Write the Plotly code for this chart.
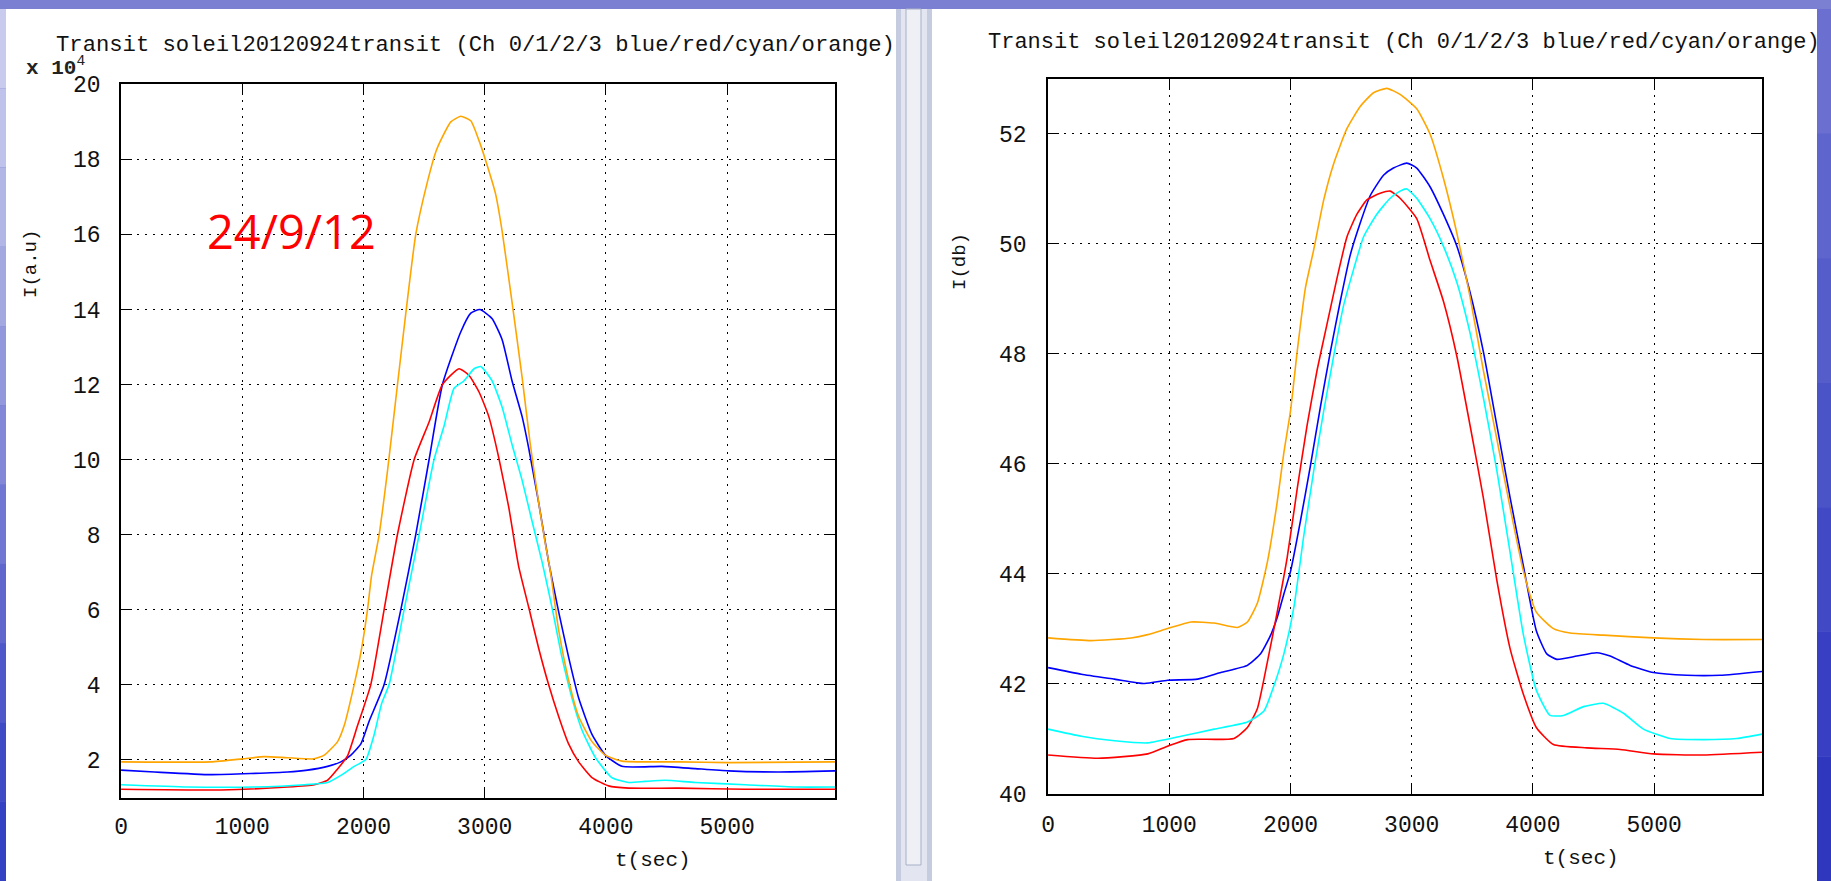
import plotly.graph_objects as go

W, H = 1831, 881

# ---------------- data: left panel, I (a.u., x10^4) ----------------
tL_orange = [0, 740, 1000, 1180, 1370, 1590, 1676, 1786, 1840, 1923, 1978, 2033, 2066, 2129, 2198, 2266, 2349, 2431, 2527,
             2596, 2651, 2720, 2802, 2885, 2953, 3005, 3088, 3143, 3225, 3308, 3376, 3445, 3500, 3541, 3610, 3692,
             3775, 3885, 3995, 4132, 4599, 5011, 5890]
vL_orange = [1.94, 1.94, 2.02, 2.08, 2.05, 2.02, 2.12, 2.48, 2.9, 4.0, 4.85, 6.0, 6.9, 8.0, 9.7, 11.6, 13.9, 16.0, 17.4,
             18.2, 18.6, 19.0, 19.15, 19.03, 18.5, 18.0, 17.1, 16.1, 14.2, 12.2, 10.4, 8.85, 7.76, 7.03, 5.45, 4.12,
             3.15, 2.48, 2.12, 1.96, 1.94, 1.92, 1.94]

tL_blue = [0, 275, 742, 1374, 1538, 1703, 1813, 1896, 1978, 2047, 2170, 2308, 2431, 2541, 2651, 2802, 2885, 2960,
           3060, 3143, 3225, 3308, 3363, 3445, 3527, 3610, 3692, 3775, 3885, 3995, 4132, 4462, 4736, 5011, 5423, 5890]
vL_blue = [1.72, 1.67, 1.6, 1.67, 1.72, 1.82, 1.94, 2.12, 2.42, 3.03, 4.0, 6.0, 8.0, 10.0, 12.0, 13.4, 13.9, 14.0,
           13.76, 13.2, 12.1, 11.15, 10.3, 8.85, 7.27, 5.94, 4.73, 3.64, 2.67, 2.12, 1.82, 1.82, 1.76, 1.7, 1.67, 1.7]

tL_red = [0, 824, 1374, 1593, 1703, 1786, 1868, 1950, 2060, 2170, 2280, 2418, 2541, 2651, 2788, 2871, 2953, 3033,
          3115, 3198, 3280, 3363, 3445, 3527, 3610, 3692, 3775, 3885, 4022, 4187, 4599, 5148, 5890]
vL_red = [1.21, 1.19, 1.27, 1.33, 1.45, 1.75, 2.1, 2.9, 4.0, 6.0, 8.0, 10.0, 11.0, 12.0, 12.42, 12.24, 11.8, 11.15,
          10.06, 8.73, 7.15, 6.06, 4.97, 4.0, 3.15, 2.42, 1.94, 1.52, 1.3, 1.24, 1.24, 1.21, 1.21]

tL_cyan = [0, 549, 1099, 1511, 1703, 1813, 1923, 2019, 2088, 2150, 2211, 2335, 2459, 2582, 2665, 2747, 2830, 2912,
           2967, 3060, 3143, 3225, 3308, 3390, 3473, 3555, 3637, 3720, 3802, 3912, 4049, 4187, 4324, 4489, 4736,
           5148, 5560, 5890]
vL_cyan = [1.33, 1.27, 1.27, 1.33, 1.39, 1.58, 1.82, 2.0, 2.67, 3.5, 4.0, 6.0, 8.0, 10.0, 10.9, 11.9, 12.1, 12.42,
           12.48, 12.1, 11.4, 10.4, 9.45, 8.36, 7.27, 6.06, 4.73, 3.64, 2.79, 2.06, 1.52, 1.39, 1.42, 1.45, 1.39,
           1.33, 1.27, 1.27]

# ---------------- data: right panel, I (dB) ----------------
tR_orange = [0, 356, 685, 822, 986, 1178, 1370, 1562, 1644, 1726, 1808, 1890, 1945, 2000, 2055, 2123, 2192, 2274,
             2356, 2466, 2575, 2685, 2795, 2904, 3041, 3151, 3261, 3372, 3481, 3591, 3702, 3812, 3922, 4028, 4169,
             4307, 4582, 4994, 5407, 5890]
vR_orange = [42.83, 42.78, 42.83, 42.89, 43.0, 43.12, 43.1, 43.02, 43.12, 43.46, 44.2, 45.3, 46.2, 46.96, 48.04,
             49.2, 49.9, 50.8, 51.46, 52.1, 52.5, 52.75, 52.83, 52.72, 52.46, 52.0, 51.2, 50.2, 49.04, 47.7, 46.45,
             45.2, 44.04, 43.3, 43.0, 42.92, 42.88, 42.83, 42.8, 42.8]

tR_blue = [0, 274, 548, 795, 986, 1233, 1425, 1644, 1753, 1836, 1890, 1945, 2000, 2082, 2164, 2247, 2329, 2411,
           2493, 2575, 2658, 2767, 2849, 2959, 3041, 3151, 3261, 3372, 3481, 3591, 3702, 3812, 3922, 4028, 4114,
           4197, 4362, 4527, 4637, 4802, 4994, 5269, 5545, 5890]
vR_blue = [42.29, 42.17, 42.08, 42.0, 42.06, 42.08, 42.2, 42.33, 42.54, 42.88, 43.2, 43.63, 44.04, 44.96, 45.96,
           47.04, 48.04, 48.96, 49.8, 50.38, 50.88, 51.25, 51.38, 51.47, 51.38, 51.04, 50.54, 49.96, 49.12, 48.04,
           46.7, 45.38, 44.13, 42.96, 42.54, 42.44, 42.5, 42.56, 42.5, 42.33, 42.2, 42.15, 42.15, 42.22]

tR_red = [0, 411, 822, 986, 1151, 1534, 1644, 1726, 1808, 1890, 1973, 2055, 2137, 2219, 2301, 2384, 2466, 2548,
          2630, 2740, 2822, 2904, 3041, 3151, 3261, 3372, 3481, 3591, 3702, 3812, 3922, 4028, 4169, 4444, 4719,
          4994, 5407, 5890]
vR_red = [40.7, 40.64, 40.72, 40.86, 40.98, 41.0, 41.2, 41.54, 42.38, 43.3, 44.3, 45.54, 46.7, 47.7, 48.54, 49.38,
          50.13, 50.54, 50.8, 50.92, 50.96, 50.83, 50.46, 49.7, 48.96, 47.96, 46.7, 45.38, 43.88, 42.63, 41.8, 41.2,
          40.89, 40.83, 40.8, 40.72, 40.7, 40.75]

tR_cyan = [0, 274, 548, 822, 1096, 1370, 1644, 1781, 1863, 1945, 2027, 2110, 2192, 2274, 2356, 2438, 2521, 2603,
           2712, 2822, 2904, 2959, 3041, 3151, 3261, 3372, 3481, 3591, 3702, 3812, 3922, 4028, 4141, 4252, 4417,
           4582, 4747, 4912, 5132, 5407, 5682, 5890]
vR_cyan = [41.17, 41.04, 40.96, 40.92, 41.04, 41.17, 41.3, 41.5, 41.96, 42.54, 43.38, 44.7, 45.88, 46.96, 47.96,
           48.88, 49.54, 50.13, 50.54, 50.83, 50.96, 51.0, 50.83, 50.46, 49.96, 49.3, 48.38, 47.2, 45.88, 44.38,
           42.88, 41.88, 41.42, 41.42, 41.58, 41.64, 41.46, 41.17, 41.0, 40.98, 41.0, 41.08]

x_ticks = [0, 1000, 2000, 3000, 4000, 5000]
yL_ticks = [2, 4, 6, 8, 10, 12, 14, 16, 18, 20]
yR_ticks = [40, 42, 44, 46, 48, 50, 52]

title_text = "Transit soleil20120924transit (Ch 0/1/2/3 blue/red/cyan/orange)"

COL = {"blue": "#0000ff", "red": "#ff0000", "cyan": "#00ffff", "orange": "#ffa500"}
MONO = "Liberation Mono, Courier New, monospace"


def px(x):
    return x / W


def py(y):
    return 1 - y / H


fig = go.Figure()

series_L = [("blue", tL_blue, vL_blue), ("red", tL_red, vL_red), ("cyan", tL_cyan, vL_cyan),
            ("orange", tL_orange, vL_orange)]
series_R = [("blue", tR_blue, vR_blue), ("red", tR_red, vR_red), ("cyan", tR_cyan, vR_cyan),
            ("orange", tR_orange, vR_orange)]

for name, t, v in series_L:
    fig.add_trace(go.Scatter(x=t, y=v, mode="lines",
                             line=dict(color=COL[name], width=1.6, shape="spline", smoothing=0.5),
                             xaxis="x", yaxis="y", showlegend=False, hoverinfo="skip"))
for name, t, v in series_R:
    fig.add_trace(go.Scatter(x=t, y=v, mode="lines",
                             line=dict(color=COL[name], width=1.6, shape="spline", smoothing=0.5),
                             xaxis="x2", yaxis="y2", showlegend=False, hoverinfo="skip"))

axis_common = dict(
    showline=True, linecolor="black", linewidth=1.5, mirror="ticks",
    ticks="inside", ticklen=11, tickwidth=1, tickcolor="black",
    showgrid=True, gridcolor="black", gridwidth=1, griddash="2px,6px",
    zeroline=False, tickfont=dict(family=MONO, size=23, color="#111111"),
    fixedrange=True, automargin=False,
)

fig.update_layout(
    template="none",
    width=W, height=H, autosize=False,
    margin=dict(l=0, r=0, t=0, b=0, pad=0, autoexpand=False),
    paper_bgcolor="#6c72cf", plot_bgcolor="white",
    font=dict(family=MONO, color="#111111"),
    showlegend=False,
    xaxis=dict(domain=[px(121), px(835)], range=[-1, 5890], tickvals=x_ticks, anchor="y",
               ticklabelstandoff=7, **axis_common),
    yaxis=dict(domain=[py(797.5), py(84)], range=[0.99, 20.01], tickvals=yL_ticks, anchor="x",
               ticklabelstandoff=14, **axis_common),
    xaxis2=dict(domain=[px(1048), px(1762)], range=[-1, 5890], tickvals=x_ticks, anchor="y2",
                ticklabelstandoff=9, **axis_common),
    yaxis2=dict(domain=[py(794), py(79)], range=[39.99, 53.0], tickvals=yR_ticks, anchor="x2",
                ticklabelstandoff=15, **axis_common),
)

shapes = []
# top blue strip
shapes.append(dict(type="rect", xref="paper", yref="paper", x0=0, x1=1, y0=py(9), y1=1,
                   fillcolor="#7c80d3", line=dict(width=0), layer="below"))
# left gradient strip
left_cols = ["#c9cbee", "#bfc2ea", "#b2b6e6", "#a3a8e1", "#9398dc", "#8288d7", "#7077d2", "#5f67cd",
             "#4f58c9", "#3f4ac5", "#3441c2"]
n = len(left_cols)
for i, c in enumerate(left_cols):
    shapes.append(dict(type="rect", xref="paper", yref="paper", x0=0, x1=px(6),
                       y0=py(9 + (i + 1) * (H - 9) / n), y1=py(9 + i * (H - 9) / n),
                       fillcolor=c, line=dict(width=0), layer="below"))
# right gradient strip
right_cols = ["#6a6fd0", "#5e65cc", "#555dca", "#4b54c7", "#4149c4", "#383fc2", "#2f37bf"]
n = len(right_cols)
for i, c in enumerate(right_cols):
    shapes.append(dict(type="rect", xref="paper", yref="paper", x0=px(1817), x1=1,
                       y0=py(9 + (i + 1) * (H - 9) / n), y1=py(9 + i * (H - 9) / n),
                       fillcolor=c, line=dict(width=0), layer="below"))
# white windows
shapes.append(dict(type="rect", xref="paper", yref="paper", x0=px(6), x1=px(896), y0=0, y1=py(9),
                   fillcolor="white", line=dict(width=0), layer="below"))
shapes.append(dict(type="rect", xref="paper", yref="paper", x0=px(932), x1=px(1817), y0=0, y1=py(9),
                   fillcolor="white", line=dict(width=0), layer="below"))
# splitter
shapes.append(dict(type="rect", xref="paper", yref="paper", x0=px(896), x1=px(932), y0=0, y1=py(9),
                   fillcolor="#c5cce0", line=dict(width=0), layer="below"))
shapes.append(dict(type="rect", xref="paper", yref="paper", x0=px(901), x1=px(927), y0=0, y1=py(9),
                   fillcolor="#e3e6f0", line=dict(width=0), layer="below"))
shapes.append(dict(type="rect", xref="paper", yref="paper", x0=px(906), x1=px(921), y0=py(865), y1=py(9),
                   fillcolor="#eef0f5", line=dict(color="#a8b0c8", width=1), layer="below"))
fig.update_layout(shapes=shapes)

ann = []
ann.append(dict(text=title_text, x=px(476), y=py(45), xref="paper", yref="paper", showarrow=False,
                xanchor="center", yanchor="middle", font=dict(family=MONO, size=22.2, color="#111111")))
ann.append(dict(text=title_text, x=px(1404), y=py(43), xref="paper", yref="paper", showarrow=False,
                xanchor="center", yanchor="middle", font=dict(family=MONO, size=22, color="#111111")))
ann.append(dict(text="t(sec)", x=px(653), y=py(860), xref="paper", yref="paper", showarrow=False,
                xanchor="center", yanchor="middle", font=dict(family=MONO, size=21, color="#111111")))
ann.append(dict(text="t(sec)", x=px(1581), y=py(858), xref="paper", yref="paper", showarrow=False,
                xanchor="center", yanchor="middle", font=dict(family=MONO, size=21, color="#111111")))
ann.append(dict(text="I(a.u)", x=px(31), y=py(264), xref="paper", yref="paper", showarrow=False, textangle=-90,
                xanchor="center", yanchor="middle", font=dict(family=MONO, size=19, color="#111111")))
ann.append(dict(text="I(db)", x=px(960), y=py(262), xref="paper", yref="paper", showarrow=False, textangle=-90,
                xanchor="center", yanchor="middle", font=dict(family=MONO, size=19, color="#111111")))
ann.append(dict(text="<b>x 10</b><sup>4</sup>", x=px(24), y=py(66), xref="paper", yref="paper", showarrow=False,
                xanchor="left", yanchor="middle", font=dict(family=MONO, size=21, color="#222222")))
ann.append(dict(text="24/9/12", x=px(291), y=py(231), xref="paper", yref="paper", showarrow=False,
                xanchor="center", yanchor="middle", font=dict(family="Open Sans, sans-serif", size=47, color="#ff0000")))
fig.update_layout(annotations=ann)

fig.write_html("out.html",
               post_script="document.body.style.margin='0px';document.body.style.padding='0px';"
                           "document.body.style.overflow='hidden';")
